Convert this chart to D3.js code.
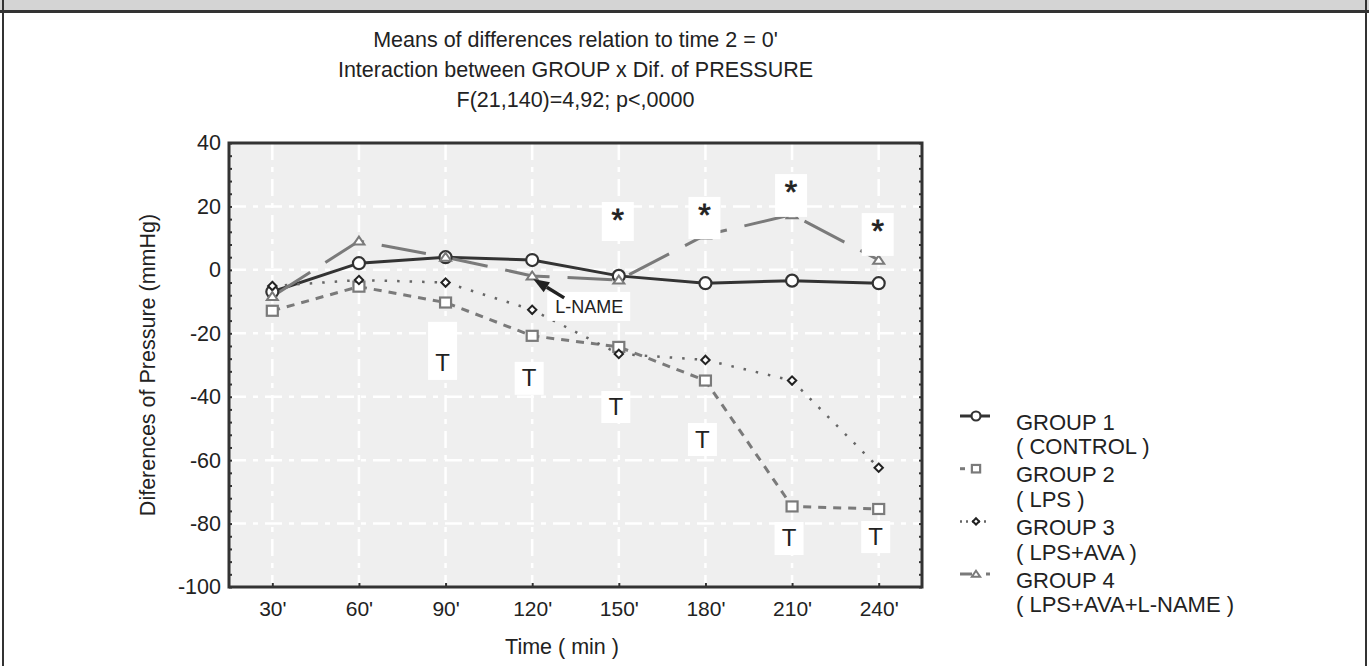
<!DOCTYPE html>
<html>
<head>
<meta charset="utf-8">
<script src="https://cdn.jsdelivr.net/npm/d3@7"></script>
<style>
  html, body { margin: 0; padding: 0; background: #fff; }
  svg { display: block; font-family: "Liberation Sans", Arial, sans-serif; }
</style>
</head>
<body>
<svg id="chart" width="1369" height="666"></svg>
<script>
// ---------- data ----------
const categories = ["30'", "60'", "90'", "120'", "150'", "180'", "210'", "240'"];
const group1 = [-6.9, 2.1, 4.0, 3.1, -1.9, -4.2, -3.4, -4.2];
const group2 = [-12.9, -5.3, -10.3, -20.8, -24.3, -34.9, -74.6, -75.4];
const group3 = [-5.1, -3.2, -4.0, -12.6, -26.5, -28.4, -34.9, -62.4];
const group4 = [-8.4, 9.1, 4.0, -1.9, -3.2, 11.0, 17.4, 3.1];
const yTicks = [40, 20, 0, -20, -40, -60, -80, -100];
const titleLines = ["Means of differences relation to time 2 = 0'",
                    "Interaction between GROUP x Dif. of PRESSURE",
                    "F(21,140)=4,92; p<,0000"];
const legendLabels = [["GROUP 1", "( CONTROL )"], ["GROUP 2", "( LPS )"],
                      ["GROUP 3", "( LPS+AVA )"], ["GROUP 4", "( LPS+AVA+L-NAME )"]];
const tNotes = [
  {cat: "90'", top: -16.4, bottom: -34.7},
  {cat: "120'", top: -29.0, bottom: -39.4},
  {cat: "150'", top: -38.2, bottom: -48.3},
  {cat: "180'", top: -48.3, bottom: -58.7},
  {cat: "210'", top: -79.5, bottom: -89.9},
  {cat: "240'", top: -79.2, bottom: -89.3}
];
const starNotes = [
  {cat: "150'", top: 21.4, bottom: 9.1},
  {cat: "180'", top: 23.0, bottom: 9.7},
  {cat: "210'", top: 30.2, bottom: 16.7},
  {cat: "240'", top: 17.9, bottom: 4.4}
];
const lnameNote = {cat: "120'", value: -1.9, label: "L-NAME"};

// ---------- layout ----------
const W = 1369, H = 666;
const P = {left: 229, right: 922, top: 143, bottom: 587};
const svg = d3.select("#chart");

const x = d3.scalePoint().domain(categories).range([P.left, P.right]).padding(0.5);
const y = d3.scaleLinear().domain([-100, 40]).range([P.bottom, P.top]);

// frame
svg.append("rect").attr("x", 0).attr("y", 0).attr("width", W).attr("height", 11).attr("fill", "#d4d4d4");
svg.append("line").attr("x1", 0).attr("x2", W).attr("y1", 11.5).attr("y2", 11.5).attr("stroke", "#333").attr("stroke-width", 3);
svg.append("line").attr("x1", 3).attr("x2", 3).attr("y1", 0).attr("y2", H).attr("stroke", "#333").attr("stroke-width", 2);
svg.append("line").attr("x1", W - 3).attr("x2", W - 3).attr("y1", 0).attr("y2", H).attr("stroke", "#333").attr("stroke-width", 2);

// title
const cx = (P.left + P.right) / 2;
svg.append("g").selectAll("text").data(titleLines).join("text")
  .attr("x", cx).attr("y", (d, i) => 40 + i * 30)
  .attr("text-anchor", "middle").attr("dominant-baseline", "central")
  .attr("font-size", 21.5).attr("fill", "#222").text(d => d);

// plot background
svg.append("rect").attr("x", P.left).attr("y", P.top)
  .attr("width", P.right - P.left).attr("height", P.bottom - P.top).attr("fill", "#efefef");

// grid
const grid = svg.append("g").attr("stroke", "#fff").attr("stroke-width", 2.5).attr("stroke-dasharray", "17,7,5,7");
grid.selectAll(".h").data(yTicks.filter(v => v > -100 && v < 40)).join("line")
  .attr("x1", P.left).attr("x2", P.right).attr("y1", d => y(d)).attr("y2", d => y(d));
grid.selectAll(".v").data(categories).join("line")
  .attr("y1", P.top).attr("y2", P.bottom).attr("x1", d => x(d)).attr("x2", d => x(d));

// series
const series = [
  {vals: group1, stroke: "#333", width: 3, dash: null, shape: "circle", mstroke: "#333"},
  {vals: group2, stroke: "#7a7a7a", width: 3, dash: "8,7", shape: "square", mstroke: "#7a7a7a"},
  {vals: group3, stroke: "#666", width: 2.5, dash: "2.5,10", shape: "diamond", mstroke: "#222"},
  {vals: group4, stroke: "#7a7a7a", width: 3, dash: "45,18", shape: "triangle", mstroke: "#7a7a7a"}
];
const line = d3.line().x((d, i) => x(categories[i])).y(d => y(d));

function drawMarker(g, shape, px, py, s, stroke) {
  if (shape === "circle") {
    g.append("circle").attr("cx", px).attr("cy", py).attr("r", 6 * s)
      .attr("fill", "#fff").attr("stroke", stroke).attr("stroke-width", 2.2);
  } else if (shape === "square") {
    g.append("rect").attr("x", px - 5.5 * s).attr("y", py - 5 * s).attr("width", 11 * s).attr("height", 10 * s)
      .attr("fill", "#fff").attr("stroke", stroke).attr("stroke-width", 2.2);
  } else if (shape === "diamond") {
    const r = 4.2 * s;
    g.append("path").attr("d", `M${px},${py - r}L${px + r},${py}L${px},${py + r}L${px - r},${py}Z`)
      .attr("fill", "#fff").attr("stroke", stroke).attr("stroke-width", 2);
  } else {
    const w = 5.5 * s, h = 8 * s;
    g.append("path").attr("d", `M${px},${py - h * 0.55}L${px + w},${py + h * 0.45}L${px - w},${py + h * 0.45}Z`)
      .attr("fill", "#fff").attr("stroke", stroke).attr("stroke-width", 2);
  }
}

const sg = svg.append("g");
series.forEach(s => {
  sg.append("path").datum(s.vals).attr("d", line).attr("fill", "none")
    .attr("stroke", s.stroke).attr("stroke-width", s.width)
    .attr("stroke-dasharray", s.dash);
});
series.forEach(s => {
  s.vals.forEach((v, i) => drawMarker(sg, s.shape, x(categories[i]), y(v), 1, s.mstroke));
});

// annotation boxes
const ag = svg.append("g");
tNotes.forEach(n => {
  const bx = x(n.cat) - 3;
  ag.append("rect").attr("x", bx - 14.5).attr("y", y(n.top)).attr("width", 29)
    .attr("height", y(n.bottom) - y(n.top)).attr("fill", "#fff");
  ag.append("text").attr("x", bx).attr("y", y(n.bottom) - 17).attr("text-anchor", "middle")
    .attr("dominant-baseline", "central").attr("font-size", 24).attr("fill", "#222").text("T");
});
starNotes.forEach(n => {
  const bx = x(n.cat) - 1;
  ag.append("rect").attr("x", bx - 16).attr("y", y(n.top)).attr("width", 32)
    .attr("height", y(n.bottom) - y(n.top)).attr("fill", "#fff");
  ag.append("text").attr("x", bx).attr("y", y(n.top) + 29).attr("text-anchor", "middle")
    .attr("font-size", 32).attr("fill", "#222").attr("stroke", "#222").attr("stroke-width", 0.8).text("*");
});
// L-NAME note
{
  const tx = x(lnameNote.cat), ty = y(lnameNote.value);
  ag.append("rect").attr("x", tx + 15).attr("y", ty + 16).attr("width", 83).attr("height", 29).attr("fill", "#fff");
  ag.append("text").attr("x", tx + 57).attr("y", ty + 31).attr("text-anchor", "middle")
    .attr("dominant-baseline", "central").attr("font-size", 18).attr("fill", "#222").text(lnameNote.label);
  const x0 = tx + 32, y0 = ty + 22, x1 = tx + 1, y1 = ty + 3;
  const ang = Math.atan2(y1 - y0, x1 - x0);
  const hl = 16, hw = 6;
  const bxh = x1 - hl * Math.cos(ang), byh = y1 - hl * Math.sin(ang);
  ag.append("line").attr("x1", x0).attr("y1", y0).attr("x2", bxh).attr("y2", byh)
    .attr("stroke", "#222").attr("stroke-width", 3.5);
  ag.append("path").attr("d",
    `M${x1},${y1}L${bxh + hw * Math.sin(ang)},${byh - hw * Math.cos(ang)}L${bxh - hw * Math.sin(ang)},${byh + hw * Math.cos(ang)}Z`)
    .attr("fill", "#222");
}

// plot frame
svg.append("rect").attr("x", P.left).attr("y", P.top)
  .attr("width", P.right - P.left).attr("height", P.bottom - P.top)
  .attr("fill", "none").attr("stroke", "#333").attr("stroke-width", 3);

// axes: minor ticks
const minor = d3.range(-100, 41, 4);
svg.append("g").attr("transform", `translate(${P.left},0)`)
  .call(d3.axisRight(y).tickValues(minor).tickSize(3).tickFormat(""))
  .call(g => g.select(".domain").remove())
  .selectAll("line").attr("stroke", "#333").attr("stroke-width", 2);
svg.append("g").attr("transform", `translate(${P.right},0)`)
  .call(d3.axisLeft(y).tickValues(minor).tickSize(3).tickFormat(""))
  .call(g => g.select(".domain").remove())
  .selectAll("line").attr("stroke", "#333").attr("stroke-width", 2);
svg.append("g").attr("transform", `translate(0,${P.bottom})`)
  .call(d3.axisTop(x).tickSize(4).tickFormat(""))
  .call(g => g.select(".domain").remove())
  .selectAll("line").attr("stroke", "#333").attr("stroke-width", 2);

// axis labels
const yAx = svg.append("g").attr("transform", `translate(${P.left},0)`)
  .call(d3.axisLeft(y).tickValues(yTicks).tickSize(0).tickPadding(8).tickFormat(d => String(d)));
yAx.select(".domain").remove();
yAx.selectAll("text").attr("font-size", 21.5).attr("fill", "#222").attr("font-family", "Liberation Sans, Arial, sans-serif");

const xAx = svg.append("g").attr("transform", `translate(0,${P.bottom})`)
  .call(d3.axisBottom(x).tickSize(0).tickPadding(14));
xAx.select(".domain").remove();
xAx.selectAll("text").attr("font-size", 21).attr("fill", "#222").attr("font-family", "Liberation Sans, Arial, sans-serif");

svg.append("text").attr("x", 562).attr("y", 647).attr("text-anchor", "middle")
  .attr("dominant-baseline", "central").attr("font-size", 21.5).attr("fill", "#222").text("Time ( min )");
svg.append("text").attr("transform", `translate(148,${(P.top + P.bottom) / 2}) rotate(-90)`)
  .attr("text-anchor", "middle").attr("dominant-baseline", "central")
  .attr("font-size", 21.5).attr("fill", "#222").text("Diferences of Pressure (mmHg)");

// legend
const lg = svg.append("g");
legendLabels.forEach((lab, i) => {
  const ty = 422 + i * 52.7;
  const s = series[i];
  const sy = ty - 6;
  lg.append("line").attr("x1", 960).attr("x2", 990).attr("y1", sy).attr("y2", sy)
    .attr("stroke", s.stroke).attr("stroke-width", s.width)
    .attr("stroke-dasharray", i === 0 ? null : (i === 1 ? "5,25" : (i === 2 ? "2,4" : "12,14")));
  drawMarker(lg, s.shape, 976, sy, 0.75, s.mstroke);
  lab.forEach((t, j) => {
    lg.append("text").attr("x", 1016).attr("y", ty + j * 24.7).attr("dominant-baseline", "central")
      .attr("font-size", 22).attr("fill", "#222").text(t);
  });
});
</script>
</body>
</html>
